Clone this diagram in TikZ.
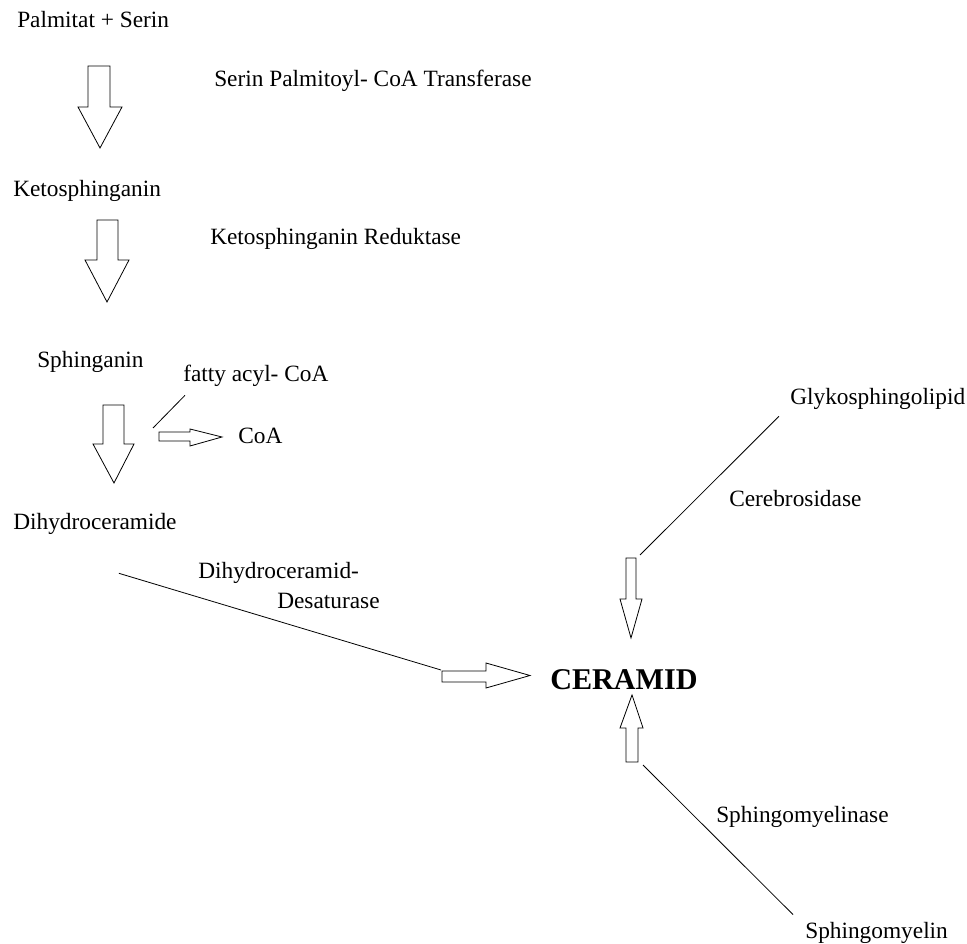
\documentclass[tikz,border=0pt]{standalone}
\usepackage{fontspec}
\setmainfont{Liberation Serif}

\begin{document}
\begin{tikzpicture}[
  x=0.75pt, y=-0.75pt,
  every node/.style = {font=\fontsize{17.5}{21}\selectfont, inner sep=0pt},
  mol/.style        = {anchor=base west},
  enz/.style        = {anchor=base west},
  cer/.style        = {anchor=base west, font=\fontsize{22.6}{27}\selectfont\bfseries},
  barr/.style       = {draw=black, fill=white, line width=0.6pt, line join=miter},
  ln/.style         = {line width=0.6pt},
]
\useasboundingbox (0,0) rectangle (967,944);

% ── SYNTHESIS (left column) ──────────────────────────────────────────────────
\node[mol] (palm) at (17,28) {Palmitat + Serin};
\node[enz] (spt) at (214,87) {Serin Palmitoyl- CoA Transferase};
\node[mol] (keto) at (13,197) {Ketosphinganin};
\node[enz] (ksr) at (210,245) {Ketosphinganin Reduktase};
\node[mol] (sphg) at (37,368) {Sphinganin};
\node[enz] (facoa) at (183,382) {fatty acyl- CoA};
\node[mol] (coa) at (238,444) {CoA};
\node[mol] (dhc) at (13,529) {Dihydroceramide};
\node[enz] (desA) at (198,578) {Dihydroceramid-};
\node[enz] (desB) at (277,608) {Desaturase};

% block arrows
\draw[barr] (88,66) -- (110,66) -- (110,107) -- (122,107) -- (100,148)
  -- (78,107) -- (88,107) -- cycle;
\draw[barr] (97,220) -- (118,220) -- (118,260) -- (129,260) -- (107,302)
  -- (85,260) -- (97,260) -- cycle;
\draw[barr] (103,405) -- (124,405) -- (124,444) -- (134,444) -- (114,483)
  -- (93,444) -- (103,444) -- cycle;
\coordinate (a4) at (159,436.5);
\draw[barr] (159,432) -- (190,432) -- (190,429) -- (222,437) -- (190,446)
  -- (190,441) -- (159,441) -- cycle;

% ── CERAMID and the other routes ─────────────────────────────────────────────
\node[cer] (ceramid) at (550,689) {CERAMID};
\node[mol] (glyko) at (790,405) {Glykosphingolipid};
\node[enz] (cbs) at (729,506) {Cerebrosidase};
\node[enz] (smase) at (716,822) {Sphingomyelinase};
\node[mol] (sm) at (805,938) {Sphingomyelin};

\coordinate (a5) at (442,676.5);
\draw[barr] (442,671) -- (486,671) -- (486,663) -- (530,675.5) -- (486,688)
  -- (486,682) -- (442,682) -- cycle;
\coordinate (a6) at (631,558);
\draw[barr] (626,558) -- (636,558) -- (636,599) -- (642,599) -- (631,638)
  -- (620,599) -- (626,599) -- cycle;
\coordinate (a7) at (632,762);
\draw[barr] (626,762) -- (638,762) -- (638,728) -- (643,728) -- (632,695)
  -- (620,728) -- (626,728) -- cycle;

% ── thin leader lines ────────────────────────────────────────────────────────
\draw[ln] ([shift={(2,8)}]facoa.south west) -- ([shift={(-6,-8.5)}]a4);
\draw[ln] ([shift={(24,39)}]dhc.south) -- ([shift={(-1,-6.5)}]a5);
\draw[ln] ([shift={(-11,6)}]glyko.south west) -- ([shift={(9,-3)}]a6);
\draw[ln] ([shift={(11,3)}]a7) -- ([shift={(-12,-7)}]sm.north west);

\end{tikzpicture}
\end{document}
